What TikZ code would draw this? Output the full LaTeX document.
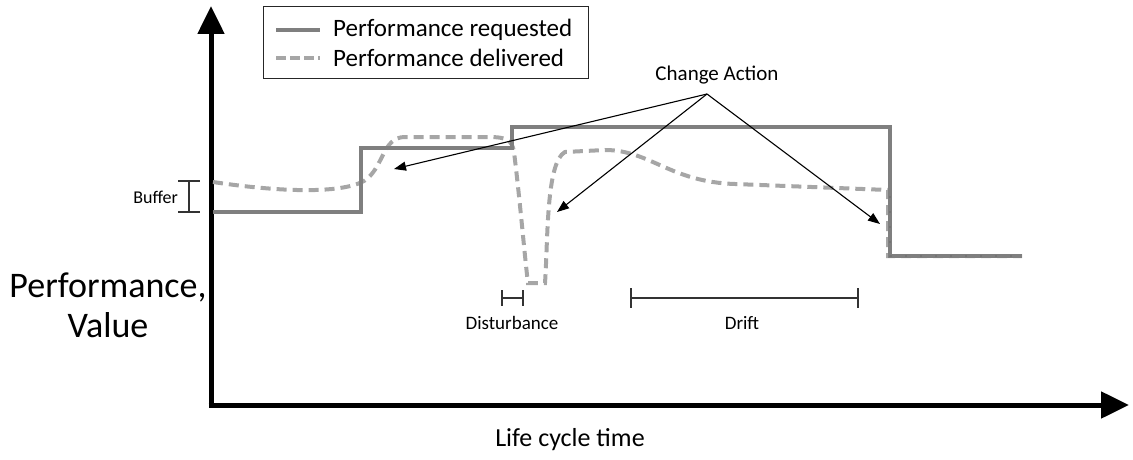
\documentclass[tikz,border=0pt]{standalone}
\usepackage{fontspec}
\setmainfont{Carlito}
\usetikzlibrary{arrows.meta}
\definecolor{reqgray}{HTML}{7F7F7F}
\definecolor{delgray}{HTML}{A6A6A6}
\tikzset{
  axisline/.style={line width=5pt, -{Triangle[length=28pt,width=26pt]}},
  requested/.style={draw=reqgray, line width=4pt, line join=miter},
  delivered/.style={draw=delgray, line width=4pt, dash pattern=on 10pt off 6pt},
  pointer/.style={draw=black, line width=1.1pt, -{Triangle[length=12pt,width=9pt]}},
  spanline/.style={draw=black!80, line width=1.1pt},
  lbl/.style={font=\fontsize{19}{22}\selectfont, inner sep=0pt},
  legendtext/.style={font=\fontsize{25}{28}\selectfont, anchor=west, inner sep=0pt}
}
\begin{document}
\begin{tikzpicture}[x=1pt,y=-1pt]
  \useasboundingbox (0,0) rectangle (1133,460);

  % axes
  \coordinate (origin) at (211,405);
  \coordinate (ytop) at (211,6);
  \coordinate (xend) at (1129,405);
  \draw[axisline] (211,407.5) -- (ytop);
  \draw[axisline] (208.5,405) -- (xend);

  % performance delivered (dashed)
  \draw[delivered] (213,182)
    .. controls (280,192) and (340,194) .. (364,181)
    .. controls (384,168) and (382,137) .. (405,137)
    -- (488,137)
    .. controls (507,137) and (512,140) .. (514,152)
    .. controls (520,200) and (525,260) .. (528,283)
    -- (545,283)
    .. controls (548,240) and (546,162) .. (565,152)
    -- (605,150)
    .. controls (650,150) and (670,182) .. (735,184)
    -- (888,190) -- (888,256) -- (1022,256);

  % performance requested (solid)
  \draw[requested] (213,212) -- (361,212) -- (361,148) -- (512,148)
    -- (512,127) -- (890,127) -- (890,256) -- (1022,256);
  \draw[draw=delgray!70!black, line width=1.5pt, dash pattern=on 2pt off 13pt]
    (890,196) -- (890,256) -- (1022,256);

  % legend
  \node[draw=black!85, line width=1pt, minimum width=325pt, minimum height=72pt,
        anchor=north west, inner sep=0pt] (legend) at (263,6) {};
  \coordinate (lgA) at (276,30);
  \coordinate (lgB) at (320,30);
  \coordinate (lgC) at (276,58);
  \coordinate (lgD) at (320,58);
  \draw[requested] (lgA) -- (lgB);
  \draw[delivered, dash pattern=on 10pt off 4pt] (lgC) -- (lgD);
  \node[legendtext] (legreq) at (333,30) {Performance requested};
  \node[legendtext] (legdel) at (333,58) {Performance delivered};

  % change action pointers
  \node[font=\fontsize{21}{24}\selectfont, inner sep=0pt] (ca) at (717,75) {Change Action};
  \coordinate (caP) at (707,94);
  \coordinate (t1) at (394,169);
  \coordinate (t2) at (557,212);
  \coordinate (t3) at (880,224);
  \draw[pointer] (caP) -- (t1);
  \draw[pointer] (caP) -- (t2);
  \draw[pointer] (caP) -- (t3);

  % buffer
  \coordinate (bufTop) at (189,181);
  \coordinate (bufBot) at (189,212);
  \draw[spanline] (bufTop) -- (bufBot)
    (178,181) -- (200,181) (178,212) -- (200,212);
  \node[lbl, font=\fontsize{18}{21}\selectfont, anchor=east] (buffer) at (178,197) {Buffer};

  % disturbance and drift spans
  \coordinate (dA) at (502,298);
  \coordinate (dB) at (523,298);
  \draw[spanline] (dA) -- (dB)
    (502,290) -- (502,306) (523,290) -- (523,306);
  \node[lbl] (dist) at (512,323) {Disturbance};
  \coordinate (fA) at (631,298);
  \coordinate (fB) at (858,298);
  \draw[spanline] (fA) -- (fB)
    (631,288) -- (631,308) (858,288) -- (858,308);
  \node[lbl] (drift) at (742,323) {Drift};

  % axis titles
  \node[font=\fontsize{36}{40}\selectfont, align=center, inner sep=0pt] (ylab) at (108,305)
    {Performance,\\Value};
  \node[font=\fontsize{26}{30}\selectfont, inner sep=0pt] (xlab) at (570,440) {Life cycle time};
\end{tikzpicture}
\end{document}
